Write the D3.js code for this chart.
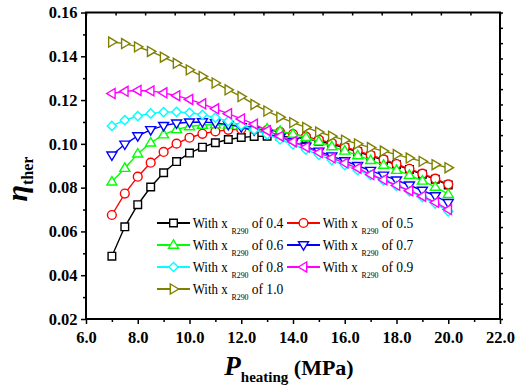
<!DOCTYPE html>
<html>
<head>
<meta charset="utf-8">
<script src="https://cdn.jsdelivr.net/npm/d3@7"></script>
<style>
  body { margin: 0; background: #fff; }
</style>
</head>
<body>
<div id="chart"></div>
<script>
// heating pressure (MPa)
const pressures = [7.0, 7.5, 8.0, 8.5, 9.0, 9.5, 10.0, 10.5, 11.0, 11.5, 12.0, 12.5, 13.0,
  13.5, 14.0, 14.5, 15.0, 15.5, 16.0, 16.5, 17.0, 17.5, 18.0, 18.5, 19.0, 19.5, 20.0];

const x04 = [0.0487, 0.0621, 0.0722, 0.0803, 0.0868, 0.0919, 0.0958, 0.0985, 0.1005, 0.1020, 0.1029, 0.1034, 0.1035,
  0.1034, 0.1030, 0.1024, 0.1012, 0.0998, 0.0982, 0.0964, 0.0945, 0.0925, 0.0904, 0.0883, 0.0861, 0.0838, 0.0812];
const x05 = [0.0675, 0.0773, 0.0850, 0.0914, 0.0963, 0.1001, 0.1028, 0.1046, 0.1057, 0.1064, 0.1067, 0.1067, 0.1063,
  0.1055, 0.1045, 0.1033, 0.1019, 0.1004, 0.0986, 0.0968, 0.0949, 0.0929, 0.0908, 0.0886, 0.0864, 0.0841, 0.0815];
const x06 = [0.0827, 0.0889, 0.0955, 0.1005, 0.1042, 0.1066, 0.1079, 0.1086, 0.1088, 0.1087, 0.1083, 0.1077, 0.1069,
  0.1058, 0.1045, 0.1030, 0.1010, 0.0988, 0.0968, 0.0947, 0.0925, 0.0903, 0.0880, 0.0857, 0.0831, 0.0803, 0.0770];
const x07 = [0.0948, 0.0998, 0.1036, 0.1064, 0.1083, 0.1094, 0.1099, 0.1100, 0.1096, 0.1088, 0.1077, 0.1063, 0.1047,
  0.1029, 0.1009, 0.0988, 0.0966, 0.0944, 0.0922, 0.0900, 0.0878, 0.0856, 0.0834, 0.0811, 0.0787, 0.0762, 0.0731];
const x08 = [0.1082, 0.1108, 0.1127, 0.1139, 0.1145, 0.1146, 0.1142, 0.1133, 0.1120, 0.1104, 0.1085, 0.1065, 0.1043,
  0.1020, 0.0997, 0.0973, 0.0950, 0.0926, 0.0903, 0.0880, 0.0857, 0.0833, 0.0808, 0.0783, 0.0757, 0.0727, 0.0692];
const x09 = [0.1230, 0.1240, 0.1244, 0.1242, 0.1233, 0.1220, 0.1203, 0.1183, 0.1160, 0.1138, 0.1114, 0.1090, 0.1060,
  0.1035, 0.1010, 0.0985, 0.0960, 0.0936, 0.0912, 0.0889, 0.0860, 0.0836, 0.0811, 0.0786, 0.0761, 0.0733, 0.0700];
const x10 = [0.1465, 0.1458, 0.1443, 0.1422, 0.1396, 0.1368, 0.1338, 0.1308, 0.1278, 0.1247, 0.1216, 0.1180, 0.1150,
  0.1122, 0.1097, 0.1075, 0.1054, 0.1035, 0.1017, 0.1000, 0.0983, 0.0967, 0.0951, 0.0935, 0.0920, 0.0905, 0.0891];

const fractions = ['0.4', '0.5', '0.6', '0.7', '0.8', '0.9', '1.0'];
const seriesValues = [x04, x05, x06, x07, x08, x09, x10];
const colors = ['#000000', '#ff0000', '#00ff00', '#0000ff', '#00ffff', '#ff00ff', '#808000'];
const shapes = ['square', 'circle', 'up', 'down', 'diamond', 'left', 'right'];

const xTicks = [6, 8, 10, 12, 14, 16, 18, 20, 22];
const yTicks = [0.02, 0.04, 0.06, 0.08, 0.10, 0.12, 0.14, 0.16];

const width = 520, height = 390;
const margin = { left: 86, right: 20, top: 12.5, bottom: 71 };
const serif = '"Liberation Serif"';

const svg = d3.select('#chart').append('svg')
  .attr('width', width)
  .attr('height', height);

const x = d3.scaleLinear().domain([6, 22]).range([margin.left, width - margin.right]);
const y = d3.scaleLinear().domain([0.02, 0.16]).range([height - margin.bottom, margin.top]);

function markerPath(shape) {
  const s = 4.6;
  switch (shape) {
    case 'square': return `M${-3.8},${-3.8}H3.8V3.8H${-3.8}Z`;
    case 'circle': return d3.arc()({ innerRadius: 0, outerRadius: 4.4, startAngle: 0, endAngle: 2 * Math.PI });
    case 'up': return `M0,${-s - 0.6}L${s + 0.4},${s * 0.7}L${-s - 0.4},${s * 0.7}Z`;
    case 'down': return `M0,${s + 0.6}L${s + 0.4},${-s * 0.7}L${-s - 0.4},${-s * 0.7}Z`;
    case 'left': return `M${-s - 0.6},0L${s * 0.7},${-s - 0.4}L${s * 0.7},${s + 0.4}Z`;
    case 'right': return `M${s + 0.6},0L${-s * 0.7},${-s - 0.4}L${-s * 0.7},${s + 0.4}Z`;
    case 'diamond': return `M0,${-s}L${s},0L0,${s}L${-s},0Z`;
  }
}

// series
const line = d3.line().x(d => x(d[0])).y(d => y(d[1]));
const plot = svg.append('g');
seriesValues.forEach((vals, i) => {
  const pts = pressures.map((p, k) => [p, vals[k]]);
  const g = plot.append('g');
  g.append('path')
    .attr('d', line(pts))
    .attr('fill', 'none')
    .attr('stroke', colors[i])
    .attr('stroke-width', 1.4);
  g.selectAll('path.mk')
    .data(pts)
    .enter()
    .append('path')
    .attr('class', 'mk')
    .attr('transform', d => `translate(${x(d[0])},${y(d[1])})`)
    .attr('d', markerPath(shapes[i]))
    .attr('fill', '#fff')
    .attr('stroke', colors[i])
    .attr('stroke-width', 1.4);
});

// axes
const x0 = margin.left, x1 = width - margin.right;
const y0 = height - margin.bottom, y1 = margin.top;

const xAxis = svg.append('g').attr('transform', `translate(0,${y0})`)
  .call(d3.axisBottom(x).tickValues(xTicks).tickFormat(d3.format('.1f')).tickSize(5).tickSizeOuter(0));
svg.append('g').attr('transform', `translate(0,${y0})`)
  .call(d3.axisBottom(x).tickValues(d3.range(7, 22, 2)).tickFormat('').tickSize(3).tickSizeOuter(0));
const yAxis = svg.append('g').attr('transform', `translate(${x0},0)`)
  .call(d3.axisLeft(y).tickValues(yTicks).tickFormat(d3.format('.2f')).tickSize(5).tickSizeOuter(0));
svg.append('g').attr('transform', `translate(${x0},0)`)
  .call(d3.axisLeft(y).tickValues(d3.range(0.03, 0.16, 0.02)).tickFormat('').tickSize(3).tickSizeOuter(0));

// secondary (unlabelled) top and right axes
const xTop = d3.scaleLinear().domain([0, 14]).range([x0, x1]);
const yRight = d3.scaleLinear().domain([0, 20]).range([y0, y1]);
svg.append('g').attr('transform', `translate(0,${y1})`)
  .call(d3.axisBottom(xTop).ticks(14).tickFormat('').tickSize(3).tickSizeOuter(0));
svg.append('g').attr('transform', `translate(${x1},0)`)
  .call(d3.axisRight(yRight).ticks(20).tickFormat('').tickSize(3).tickSizeOuter(0));

svg.selectAll('.domain').remove();
svg.selectAll('.tick line').attr('stroke', '#000').attr('stroke-width', 1.5);

svg.append('rect')
  .attr('x', x0).attr('y', y1)
  .attr('width', x1 - x0).attr('height', y0 - y1)
  .attr('fill', 'none')
  .attr('stroke', '#000')
  .attr('stroke-width', 2);

xAxis.selectAll('text')
  .attr('font-family', serif)
  .attr('font-weight', 'bold')
  .attr('font-size', 16.5)
  .attr('fill', '#000')
  .attr('dy', '0.95em');
yAxis.selectAll('text')
  .attr('font-family', serif)
  .attr('font-weight', 'bold')
  .attr('font-size', 16.5)
  .attr('fill', '#000')
  .attr('x', -8.5);

// axis titles
const xt = svg.append('text')
  .attr('x', 289)
  .attr('y', 375)
  .attr('text-anchor', 'middle')
  .attr('font-family', serif)
  .attr('font-weight', 'bold')
  .attr('fill', '#000');
xt.append('tspan').attr('font-size', 27).attr('font-style', 'italic').text('P');
xt.append('tspan').attr('font-size', 15).attr('dy', 7).text('heating');
xt.append('tspan').attr('font-size', 22).attr('dy', -7).text(' (MPa)');

const yt = svg.append('text')
  .attr('transform', 'translate(27,179) rotate(-90)')
  .attr('text-anchor', 'middle')
  .attr('font-family', serif)
  .attr('font-weight', 'bold')
  .attr('fill', '#000');
yt.append('tspan').attr('font-size', 30).attr('font-style', 'italic').text('η');
yt.append('tspan').attr('font-size', 16).attr('dy', 6).text('ther');

// legend
const legend = svg.append('g');
const colX = [157, 287];
const rowY = [223, 245, 267, 289];
fractions.forEach((f, i) => {
  const lx = colX[i % 2], ly = rowY[Math.floor(i / 2)];
  const item = legend.append('g').attr('transform', `translate(${lx},${ly})`);
  item.append('line')
    .attr('x1', 0).attr('x2', 33)
    .attr('y1', 0).attr('y2', 0)
    .attr('stroke', colors[i])
    .attr('stroke-width', 2);
  item.append('path')
    .attr('transform', 'translate(16.5,0)')
    .attr('d', markerPath(shapes[i]))
    .attr('fill', '#fff')
    .attr('stroke', colors[i])
    .attr('stroke-width', 1.4);
  const label = item.append('g')
    .attr('font-family', serif)
    .attr('fill', '#000');
  label.append('text')
    .attr('x', 35.7).attr('y', 5)
    .attr('font-size', 15)
    .attr('textLength', 35).attr('lengthAdjust', 'spacingAndGlyphs')
    .text('With x');
  label.append('text')
    .attr('x', 74.5).attr('y', 11)
    .attr('font-size', 8.5)
    .attr('textLength', 17).attr('lengthAdjust', 'spacingAndGlyphs')
    .text('R290');
  label.append('text')
    .attr('x', 94.7).attr('y', 5)
    .attr('font-size', 15)
    .attr('textLength', 31.6).attr('lengthAdjust', 'spacingAndGlyphs')
    .text('of ' + f);
});
</script>
</body>
</html>
